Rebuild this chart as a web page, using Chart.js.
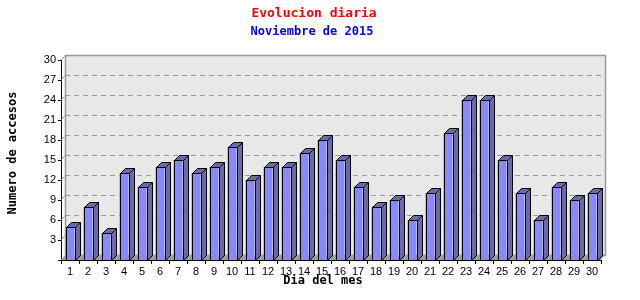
<!DOCTYPE html>
<html>
<head>
<meta charset="utf-8">
<script src="https://cdn.jsdelivr.net/npm/chart.js@4"></script>
<style>
  body { margin: 0; background: #fff; }
  #wrap { width: 640px; height: 300px; }
</style>
</head>
<body>
<div id="wrap"><canvas id="chart" width="640" height="300"></canvas></div>
<script>
// data
const dias = ['1','2','3','4','5','6','7','8','9','10','11','12','13','14','15',
              '16','17','18','19','20','21','22','23','24','25','26','27','28','29','30'];
const accesos = [5, 8, 4, 13, 11, 14, 15, 13, 14, 17, 12, 14, 14, 16, 18,
                 15, 11, 8, 9, 6, 10, 19, 24, 24, 15, 10, 6, 11, 9, 10];
const yTicks = [3, 6, 9, 12, 15, 18, 21, 24, 27, 30];

const DX = 5, DY = -5;   // 3d depth of the bars and the back wall
const mono = '"DejaVu Sans Mono", "Liberation Mono", monospace';
const tickFont = { family: '"Liberation Sans", Arial, sans-serif', size: 11 };

// back wall, floor and dashed grid, drawn behind the bars
const backWall = {
  id: 'backWall',
  beforeDatasetsDraw(chart) {
    const { ctx, chartArea: a, scales: { y } } = chart;
    ctx.save();
    ctx.fillStyle = '#e8e8e8';
    ctx.fillRect(a.left + 4, a.top + DY, a.right - a.left, a.bottom - a.top);
    ctx.strokeStyle = '#999';
    ctx.lineWidth = 1.5;
    ctx.strokeRect(a.left + 4.5, a.top + DY + 0.5, a.right - a.left, a.bottom - a.top);

    // floor
    ctx.fillStyle = '#9c9c9c';
    ctx.beginPath();
    ctx.moveTo(a.left, a.bottom);
    ctx.lineTo(a.right, a.bottom);
    ctx.lineTo(a.right + 4, a.bottom + DY);
    ctx.lineTo(a.left + 4, a.bottom + DY);
    ctx.closePath();
    ctx.fill();

    ctx.lineWidth = 1;
    yTicks.forEach(v => {
      const py = Math.round(y.getPixelForValue(v)) + 0.5;
      if (v < 30) {
        ctx.setLineDash([5, 4]);
        ctx.beginPath();
        ctx.moveTo(a.left + 4, py + DY);
        ctx.lineTo(a.right + 4, py + DY);
        ctx.stroke();
      }
      ctx.setLineDash([]);
      ctx.beginPath();
      ctx.moveTo(a.left, py);
      ctx.lineTo(a.left + 4, py + DY);
      ctx.stroke();
    });
    ctx.restore();
  },
  // side and top faces of each bar
  afterDatasetsDraw(chart) {
    const { ctx } = chart;
    ctx.save();
    ctx.fillStyle = '#6a6aa8';
    ctx.strokeStyle = '#000';
    ctx.lineWidth = 1;
    chart.getDatasetMeta(0).data.forEach(bar => {
      const { x, y, base, width } = bar.getProps(['x', 'y', 'base', 'width'], true);
      const l = Math.round(x - width / 2) + 0.5, r = Math.round(x + width / 2) + 0.5;
      const t = Math.round(y) + 0.5, b = Math.round(base) + 0.5;
      ctx.beginPath();
      ctx.moveTo(r, b);
      ctx.lineTo(r + DX, b + DY);
      ctx.lineTo(r + DX, t + DY);
      ctx.lineTo(r, t);
      ctx.closePath();
      ctx.fill(); ctx.stroke();
      ctx.beginPath();
      ctx.moveTo(l, t);
      ctx.lineTo(l + DX, t + DY);
      ctx.lineTo(r + DX, t + DY);
      ctx.lineTo(r, t);
      ctx.closePath();
      ctx.fill(); ctx.stroke();
      // outline of the front face
      ctx.strokeRect(l, t, r - l, b - t);
    });
    ctx.restore();
  },
  afterDraw(chart) {
    const { ctx } = chart;
    ctx.save();
    ctx.textAlign = 'center';
    ctx.textBaseline = 'middle';
    ctx.fillStyle = '#ff0000';
    ctx.font = 'bold 13px ' + mono;
    ctx.fillText('Evolucion diaria', 314, 14);
    ctx.fillStyle = '#0000ff';
    ctx.font = 'bold 12px ' + mono;
    ctx.fillText('Noviembre de 2015', 312, 32);
    ctx.fillStyle = '#000';
    ctx.fillText('Dia del mes', 323, 281);
    ctx.translate(13, 153);
    ctx.rotate(-Math.PI / 2);
    ctx.fillText('Numero de accesos', 0, 0);
    ctx.restore();
  }
};

new Chart(document.getElementById('chart'), {
  type: 'bar',
  data: {
    labels: dias,
    datasets: [{
      data: accesos,
      backgroundColor: '#8888ff',
      borderColor: '#000',
      borderWidth: 0,
      barPercentage: 0.5,
      categoryPercentage: 1
    }]
  },
  plugins: [backWall],
  options: {
    responsive: false,
    animation: false,
    layout: { padding: { top: 60, right: 39, bottom: 0, left: 0 } },
    plugins: { legend: { display: false }, tooltip: { enabled: false } },
    scales: {
      x: {
        afterFit(s) { s.height = 40; },
        grid: { offset: true, drawOnChartArea: false, color: '#000', tickLength: 4 },
        border: { color: '#000' },
        ticks: { color: '#000', font: tickFont, padding: 1, maxRotation: 0, autoSkip: false }
      },
      y: {
        min: 0, max: 30,
        afterFit(s) { s.width = 61; },
        afterBuildTicks(s) { s.ticks = [0].concat(yTicks).map(v => ({ value: v })); },
        grid: { drawOnChartArea: false, color: '#000', tickLength: 3 },
        border: { color: '#000' },
        ticks: {
          color: '#000', font: tickFont, padding: 2,
          callback: v => v === 0 ? '' : v
        }
      }
    }
  }
});
</script>
</body>
</html>
